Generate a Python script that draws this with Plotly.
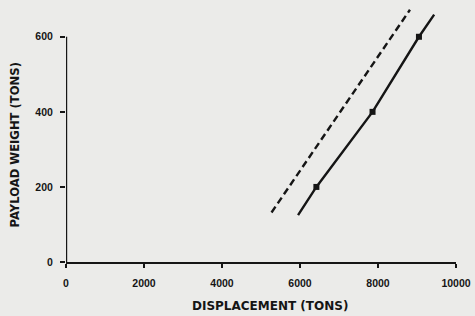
import plotly.graph_objects as go

# Data
solid_x = [5950, 6420, 7860, 9050, 9440]
solid_y = [125, 200, 400, 600, 659]
marker_x = [6420, 7860, 9050]
marker_y = [200, 400, 600]
dashed_x = [5270, 8820]
dashed_y = [132, 672]

x_ticks = [0, 2000, 4000, 6000, 8000, 10000]
y_ticks = [0, 200, 400, 600]

ink = "#151515"
bg = "#ebebe9"

fig = go.Figure()
fig.add_trace(go.Scatter(x=dashed_x, y=dashed_y, mode="lines",
                         line=dict(color=ink, width=2.4, dash="7px,4px"),
                         showlegend=False, hoverinfo="skip"))
fig.add_trace(go.Scatter(x=solid_x, y=solid_y, mode="lines",
                         line=dict(color=ink, width=2.4),
                         showlegend=False, hoverinfo="skip"))
fig.add_trace(go.Scatter(x=marker_x, y=marker_y, mode="markers",
                         marker=dict(symbol="square", size=6, color=ink),
                         showlegend=False, hoverinfo="skip"))

# y axis line only spans 0..600
fig.add_shape(type="line", xref="x", yref="y", x0=0, x1=0, y0=0, y1=600,
              line=dict(color=ink, width=2.4))

tickfont = dict(family="Liberation Sans", size=10.5, color=ink, weight="bold")

fig.update_layout(
    width=475, height=316,
    margin=dict(l=66, r=19, t=3, b=54),
    paper_bgcolor=bg, plot_bgcolor=bg,
    xaxis=dict(range=[0, 10000], tickvals=x_ticks, ticktext=[str(v) for v in x_ticks],
               showgrid=False, zeroline=False, showline=True, linecolor=ink, linewidth=2.4,
               ticks="outside", ticklen=4, tickwidth=1.5, tickcolor=ink,
               tickfont=tickfont, ticklabelstandoff=6),
    yaxis=dict(range=[0, 690], tickvals=y_ticks, ticktext=[str(v) for v in y_ticks],
               showgrid=False, zeroline=False, showline=False,
               ticks="outside", ticklen=5, tickwidth=1.5, tickcolor=ink,
               tickfont=tickfont, ticklabelstandoff=5),
    annotations=[
        dict(text="DISPLACEMENT (TONS)", xref="paper", yref="paper",
             x=(270 - 66) / 390, y=(262 - 306) / 259, xanchor="center", yanchor="middle",
             showarrow=False,
             font=dict(family="DejaVu Sans", size=12, color=ink, weight="bold")),
        dict(text="PAYLOAD WEIGHT (TONS)", xref="paper", yref="paper",
             x=(14.5 - 66) / 390, y=(262 - 145) / 259, xanchor="center", yanchor="middle",
             textangle=-90, showarrow=False,
             font=dict(family="DejaVu Sans", size=11.6, color=ink, weight="bold")),
    ],
)

fig.write_html("out.html", config={"displayModeBar": False},
               post_script="document.body.style.margin='0';document.body.style.overflow='hidden';")
